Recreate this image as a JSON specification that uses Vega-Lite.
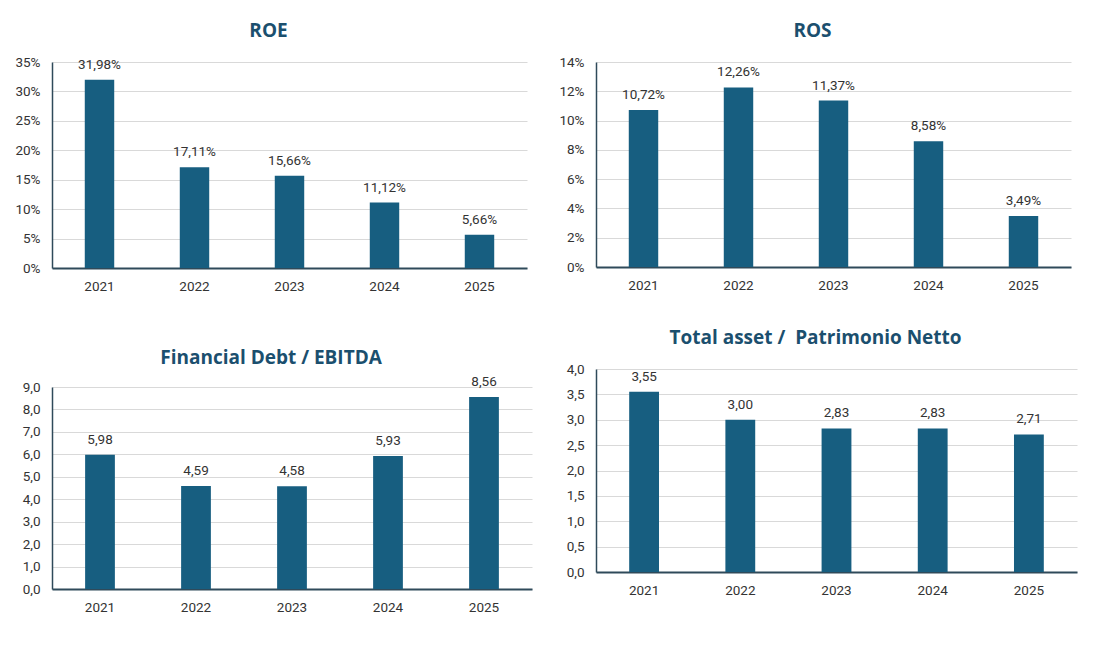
{
  "$schema": "https://vega.github.io/schema/vega-lite/v6.json",
  "background": "white",
  "padding": {"left": 10, "top": 22, "right": 10, "bottom": 10},
  "config": {
    "locale": {"number": {"decimal": ",", "thousands": ".", "grouping": [3], "currency": ["", " €"]}},
    "font": "Roboto, sans-serif",
    "view": {"stroke": null},
    "title": {"font": "Open Sans", "fontSize": 19, "fontWeight": "bold", "color": "#1b4f6e", "frame": "bounds", "anchor": "middle", "offset": 14},
    "axis": {"labelFont": "Roboto, sans-serif", "labelFontSize": 13.5, "labelColor": "#333333", "ticks": false, "title": null, "labelOverlap": false},
    "axisY": {"gridColor": "#d9d9d9", "gridWidth": 1, "domainColor": "#2f4a5a", "domainWidth": 1.5, "labelPadding": 12, "minExtent": 42},
    "axisX": {"grid": false, "domainColor": "#2f4a5a", "domainWidth": 2, "labelPadding": 11, "labelAngle": 0},
    "bar": {"color": "#175e80"},
    "text": {"font": "Roboto, sans-serif", "fontSize": 13.5, "color": "#333333", "baseline": "bottom", "dy": -8}
  },
  "datasets": {
    "roe": [
      {"year": "2021", "value": 0.3198},
      {"year": "2022", "value": 0.1711},
      {"year": "2023", "value": 0.1566},
      {"year": "2024", "value": 0.1112},
      {"year": "2025", "value": 0.0566}
    ],
    "ros": [
      {"year": "2021", "value": 0.1072},
      {"year": "2022", "value": 0.1226},
      {"year": "2023", "value": 0.1137},
      {"year": "2024", "value": 0.0858},
      {"year": "2025", "value": 0.0349}
    ],
    "fd": [
      {"year": "2021", "value": 5.98},
      {"year": "2022", "value": 4.59},
      {"year": "2023", "value": 4.58},
      {"year": "2024", "value": 5.93},
      {"year": "2025", "value": 8.56}
    ],
    "ta": [
      {"year": "2021", "value": 3.55},
      {"year": "2022", "value": 3.00},
      {"year": "2023", "value": 2.83},
      {"year": "2024", "value": 2.83},
      {"year": "2025", "value": 2.71}
    ]
  },
  "hconcat": [
    {
      "spacing": 55,
      "vconcat": [
        {
          "title": "ROE",
          "width": 475, "height": 206,
          "data": {"name": "roe"},
          "encoding": {
            "x": {"field": "year", "type": "nominal", "scale": {"paddingInner": 0.69, "paddingOuter": 0.345}},
            "y": {"field": "value", "type": "quantitative", "scale": {"domain": [0, 0.35]}, "axis": {"format": ".0%", "values": [0, 0.05, 0.1, 0.15, 0.2, 0.25, 0.3, 0.35]}}
          },
          "layer": [
            {"mark": "bar"},
            {"mark": "text", "encoding": {"text": {"field": "value", "type": "quantitative", "format": ".2%"}}}
          ]
        },
        {
          "title": {"text": "Financial Debt / EBITDA", "offset": 7},
          "width": 480, "height": 202,
          "data": {"name": "fd"},
          "encoding": {
            "x": {"field": "year", "type": "nominal", "scale": {"paddingInner": 0.69, "paddingOuter": 0.345}},
            "y": {"field": "value", "type": "quantitative", "scale": {"domain": [0, 9]}, "axis": {"format": ".1f", "values": [0, 1, 2, 3, 4, 5, 6, 7, 8, 9]}}
          },
          "layer": [
            {"mark": "bar"},
            {"mark": "text", "encoding": {"text": {"field": "value", "type": "quantitative", "format": ".2f"}}}
          ]
        }
      ]
    },
    {
      "spacing": 37,
      "vconcat": [
        {
          "title": "ROS",
          "width": 475, "height": 205,
          "data": {"name": "ros"},
          "encoding": {
            "x": {"field": "year", "type": "nominal", "scale": {"paddingInner": 0.69, "paddingOuter": 0.345}},
            "y": {"field": "value", "type": "quantitative", "scale": {"domain": [0, 0.14]}, "axis": {"format": ".0%", "values": [0, 0.02, 0.04, 0.06, 0.08, 0.1, 0.12, 0.14]}}
          },
          "layer": [
            {"mark": "bar"},
            {"mark": "text", "encoding": {"text": {"field": "value", "type": "quantitative", "format": ".2%"}}}
          ]
        },
        {
          "title": {"text": "Total asset / \u00a0Patrimonio Netto", "offset": 14},
          "width": 481, "height": 203,
          "data": {"name": "ta"},
          "encoding": {
            "x": {"field": "year", "type": "nominal", "scale": {"paddingInner": 0.69, "paddingOuter": 0.345}},
            "y": {"field": "value", "type": "quantitative", "scale": {"domain": [0, 4]}, "axis": {"format": ".1f", "values": [0, 0.5, 1, 1.5, 2, 2.5, 3, 3.5, 4]}}
          },
          "layer": [
            {"mark": "bar"},
            {"mark": "text", "encoding": {"text": {"field": "value", "type": "quantitative", "format": ".2f"}}}
          ]
        }
      ]
    }
  ],
  "spacing": 22
}
